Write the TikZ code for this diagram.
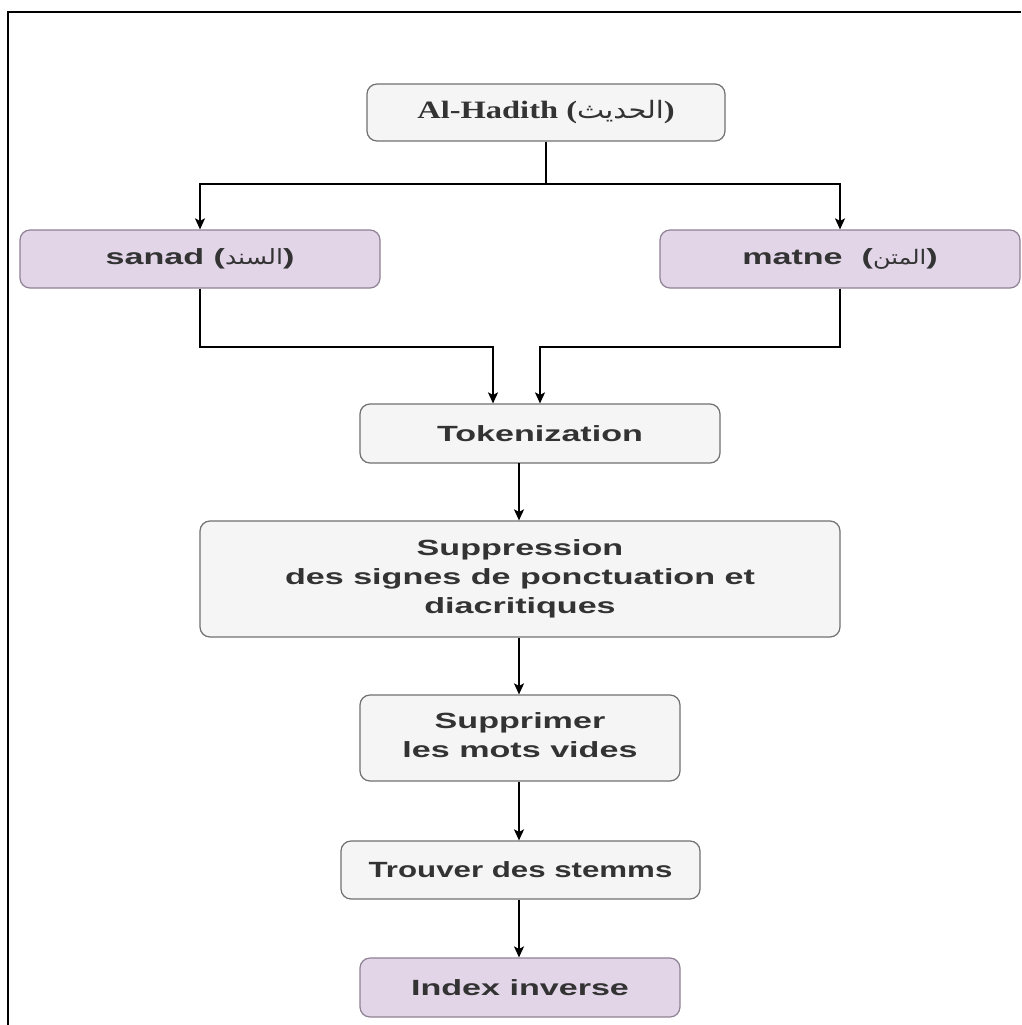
\documentclass[tikz,border=0pt]{standalone}
\usepackage{fontspec}
\usetikzlibrary{arrows.meta}
\TeXXeTstate=1
\newfontfamily\lab[FakeStretch=1.55]{Liberation Sans Bold}
\newfontfamily\labn[FakeStretch=1.42]{Liberation Sans Bold}
\newfontfamily\serb[FakeStretch=1.3]{Liberation Serif Bold}
\newfontfamily\arabicfont[Script=Arabic,FakeStretch=1.2]{DejaVu Sans}
\definecolor{txt}{HTML}{333333}
\definecolor{gfill}{HTML}{F5F5F5}
\definecolor{gline}{HTML}{707070}
\definecolor{pfill}{HTML}{E1D5E7}
\definecolor{pline}{HTML}{8E8294}
\begin{document}
\begin{tikzpicture}[x=1pt,y=-1pt,
  box/.style={draw=gline, line width=1.2pt, fill=gfill, rounded corners=10pt, inner sep=0pt,
    text=txt, align=center, font=\lab\fontsize{22}{29}\selectfont},
  pbox/.style={box, draw=pline, fill=pfill},
  arr/.style={line width=1.4pt, -{Stealth[length=11pt,width=10pt,inset=2.5pt]}},
  ln/.style={line width=1.4pt}]
\useasboundingbox (0,0) rectangle (1021,1025);
\fill[white] (0,0) rectangle (1021,1025);
% frame
\coordinate (fb) at (8,1025);
\coordinate (fc) at (8,12);
\coordinate (fr) at (1021,12);
\draw[line width=2.6pt] (fb) -- (fc) -- (fr);
% nodes
\node[box, minimum width=358pt, minimum height=57pt, font=\serb\fontsize{25}{28}\selectfont] (hadith) at (546,112.5)
  {Al-Hadith ({\arabicfont\fontsize{24}{26}\selectfont\beginR الحديث\endR})};
\node[pbox, minimum width=360pt, minimum height=58pt] (sanad) at (200,259)
  {sanad ({\arabicfont\fontsize{21}{22}\selectfont\beginR السند\endR})};
\node[pbox, minimum width=360pt, minimum height=58pt] (matne) at (840,259)
  {matne\ \ ({\arabicfont\fontsize{20}{22}\selectfont\beginR المتن\endR})};
\node[box, minimum width=360pt, minimum height=59pt] (tok) at (540,433.5) {Tokenization};
\node[box, minimum width=640pt, minimum height=116pt] (supp) at (520,579)
  {Suppression\\des signes de ponctuation et\\diacritiques};
\node[box, minimum width=320pt, minimum height=86pt, text depth=6pt] (vides) at (520,738)
  {Supprimer\\les mots vides};
\node[box, minimum width=359pt, minimum height=58pt, font=\labn\fontsize{22}{29}\selectfont] (stem) at (520.5,870) {Trouver des stemms};
\node[pbox, minimum width=320pt, minimum height=59pt] (index) at (520,987.5) {Index inverse};
% connectors
\coordinate (j) at (546,184);
\draw[ln] (hadith.south) -- (j);
\draw[arr] (j) -| (sanad.north);
\draw[arr] (j) -| (matne.north);
\coordinate (tl) at (493,347);
\coordinate (tr) at (540,347);
\draw[arr] (sanad.south) |- (tl) -- (tl |- tok.north);
\draw[arr] (matne.south) |- (tr) -- (tr |- tok.north);
\coordinate (a1) at (519,463);
\draw[arr] (a1) -- (a1 |- supp.north);
\draw[arr] (supp.south -| a1) -- (a1 |- vides.north);
\draw[arr] (vides.south -| a1) -- (a1 |- stem.north);
\draw[arr] (stem.south -| a1) -- (a1 |- index.north);
\end{tikzpicture}
\end{document}
